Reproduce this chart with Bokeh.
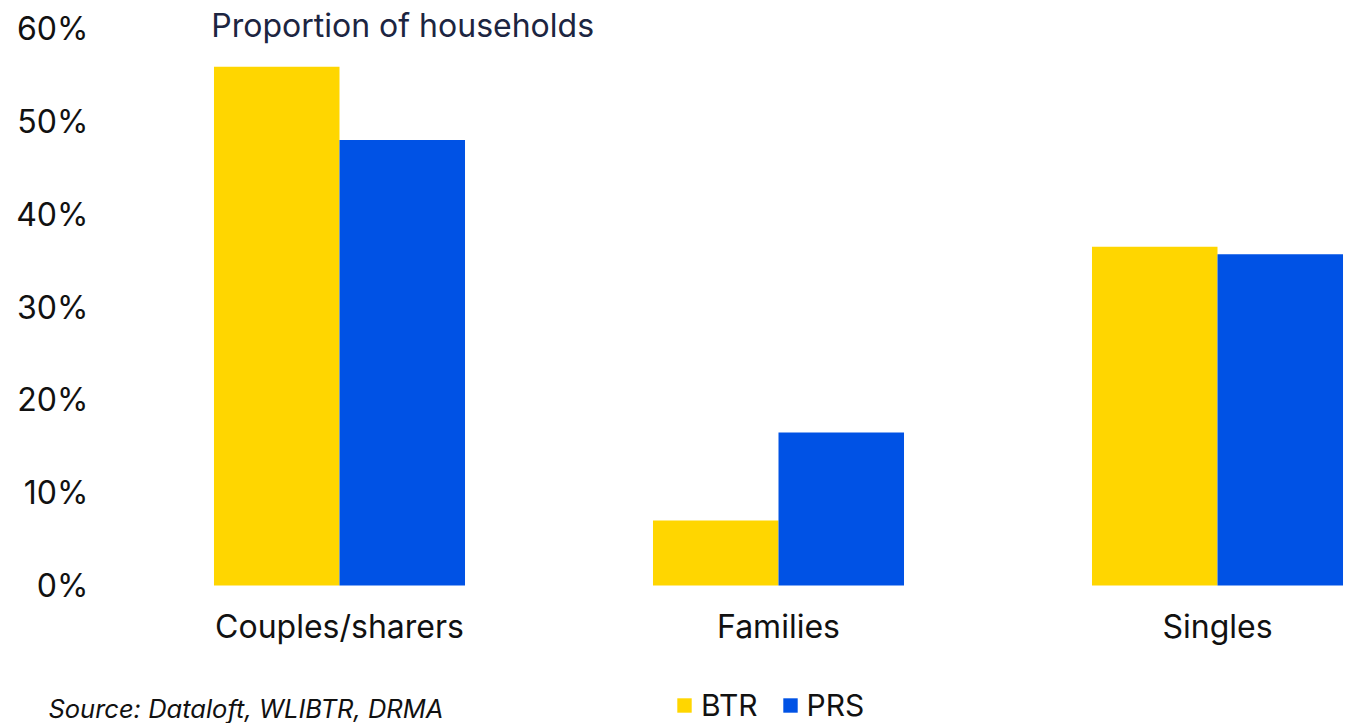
from bokeh.plotting import figure
from bokeh.models import (ColumnDataSource, FixedTicker, PrintfTickFormatter, Range1d,
                          Label, Legend, LegendItem)
from bokeh.transform import dodge
from bokeh.embed import file_html
from bokeh.resources import INLINE

# ---- data ----
categories = ["Couples/sharers", "Families", "Singles"]
btr = [55.9, 7.0, 36.5]
prs = [48.0, 16.5, 35.7]
y_ticks = [0, 10, 20, 30, 40, 50, 60]
series_names = ["BTR", "PRS"]
title_text = "Proportion of households"
source_text = "Source: Dataloft, WLIBTR, DRMA"

YELLOW = "#FFD600"
BLUE = "#0052E5"
FONT = "Inter"

idx = list(range(len(categories)))
src = ColumnDataSource(dict(x=idx, btr=btr, prs=prs))

p = figure(width=1348, height=723, output_backend="svg", toolbar_location=None,
           x_range=Range1d(-0.7722, 2.2984), y_range=Range1d(-14.87, 63.04),
           min_border_left=0, min_border_right=0, min_border_top=0, min_border_bottom=0)
p.outline_line_color = None
p.xgrid.grid_line_color = None
p.ygrid.grid_line_color = None
p.background_fill_color = "white"
p.border_fill_color = "white"

bw = 0.2859
r1 = p.vbar(x=dodge("x", -bw / 2), top="btr", width=bw, source=src,
            fill_color=YELLOW, line_color=None)
r2 = p.vbar(x=dodge("x", bw / 2), top="prs", width=bw, source=src,
            fill_color=BLUE, line_color=None)

# y axis (drawn inside the frame)
p.yaxis.fixed_location = -0.556
p.yaxis.ticker = FixedTicker(ticks=y_ticks)
p.yaxis.formatter = PrintfTickFormatter(format="%d%%")
p.yaxis.axis_line_color = None
p.yaxis.major_tick_line_color = None
p.yaxis.minor_tick_line_color = None
p.yaxis.major_tick_out = 0
p.yaxis.major_tick_in = 0
p.yaxis.major_label_text_font = FONT
p.yaxis.major_label_text_font_size = "32px"
p.yaxis.major_label_text_color = "#111111"
p.yaxis.major_label_standoff = 7

# x axis at y = 0
p.xaxis.fixed_location = 0
p.xaxis.ticker = FixedTicker(ticks=idx)
p.xaxis.major_label_overrides = {i: c for i, c in zip(idx, categories)}
p.xaxis.axis_line_color = None
p.xaxis.major_tick_line_color = None
p.xaxis.minor_tick_line_color = None
p.xaxis.major_tick_out = 0
p.xaxis.major_tick_in = 0
p.xaxis.major_label_text_font = FONT
p.xaxis.major_label_text_font_size = "32px"
p.xaxis.major_label_text_color = "#111111"
p.xaxis.major_label_standoff = 21

# title inside plot
p.add_layout(Label(x=-0.292, y=60.34, text=title_text, text_font=FONT,
                   text_font_size="32px", text_color="#1C2541",
                   text_align="left", text_baseline="middle"))

# source
p.add_layout(Label(x=-0.663, y=-13.3, text=source_text, text_font=FONT,
                   text_font_size="25.5px", text_font_style="italic",
                   text_color="#111111", text_align="left", text_baseline="middle"))

legend = Legend(items=[LegendItem(label=series_names[0], renderers=[r1]),
                       LegendItem(label=series_names[1], renderers=[r2])],
                location=(675, 0), orientation="horizontal",
                glyph_width=18, glyph_height=18, label_standoff=8, spacing=23,
                padding=0, margin=0, border_line_color=None,
                background_fill_alpha=0, label_text_font=FONT,
                label_text_font_size="30px", label_text_color="#111111")
p.add_layout(legend, "center")

open("out.html", "w").write(file_html(p, INLINE))
